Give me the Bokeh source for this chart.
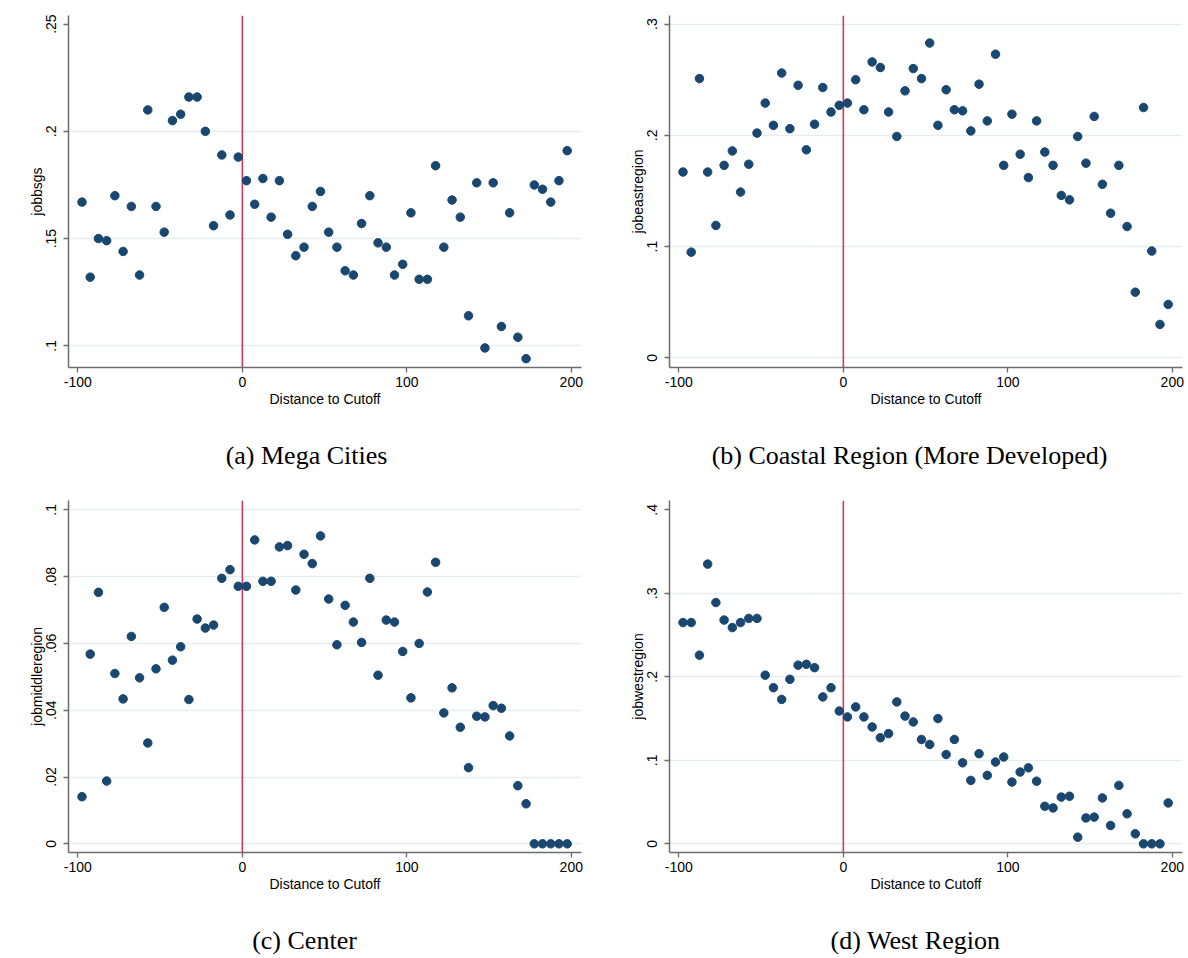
from bokeh.plotting import figure
from bokeh.models import Span, FixedTicker, Range1d
from bokeh.core.properties import value
from bokeh.layouts import column, row
from bokeh.embed import file_html
from bokeh.resources import INLINE

# Distance-to-cutoff bins (bin midpoints)
distance = [-97.5, -92.5, -87.5, -82.5, -77.5, -72.5, -67.5, -62.5, -57.5, -52.5,
            -47.5, -42.5, -37.5, -32.5, -27.5, -22.5, -17.5, -12.5, -7.5, -2.5,
            2.5, 7.5, 12.5, 17.5, 22.5, 27.5, 32.5, 37.5, 42.5, 47.5,
            52.5, 57.5, 62.5, 67.5, 72.5, 77.5, 82.5, 87.5, 92.5, 97.5,
            102.5, 107.5, 112.5, 117.5, 122.5, 127.5, 132.5, 137.5, 142.5, 147.5,
            152.5, 157.5, 162.5, 167.5, 172.5, 177.5, 182.5, 187.5, 192.5, 197.5]

jobbsgs = [0.167, 0.132, 0.150, 0.149, 0.170, 0.144, 0.165, 0.133, 0.210, 0.165,
           0.153, 0.205, 0.208, 0.216, 0.216, 0.200, 0.156, 0.189, 0.161, 0.188,
           0.177, 0.166, 0.178, 0.160, 0.177, 0.152, 0.142, 0.146, 0.165, 0.172,
           0.153, 0.146, 0.135, 0.133, 0.157, 0.170, 0.148, 0.146, 0.133, 0.138,
           0.162, 0.131, 0.131, 0.184, 0.146, 0.168, 0.160, 0.114, 0.176, 0.099,
           0.176, 0.109, 0.162, 0.104, 0.094, 0.175, 0.173, 0.167, 0.177, 0.191]

jobeastregion = [0.167, 0.095, 0.251, 0.167, 0.119, 0.173, 0.186, 0.149, 0.174, 0.202,
                 0.229, 0.209, 0.256, 0.206, 0.245, 0.187, 0.210, 0.243, 0.221, 0.227,
                 0.229, 0.250, 0.223, 0.266, 0.261, 0.221, 0.199, 0.240, 0.260, 0.251,
                 0.283, 0.209, 0.241, 0.223, 0.222, 0.204, 0.246, 0.213, 0.273, 0.173,
                 0.219, 0.183, 0.162, 0.213, 0.185, 0.173, 0.146, 0.142, 0.199, 0.175,
                 0.217, 0.156, 0.130, 0.173, 0.118, 0.059, 0.225, 0.096, 0.030, 0.048]

jobmiddleregion = [0.0141, 0.0568, 0.0753, 0.0188, 0.0510, 0.0434, 0.0621, 0.0497, 0.0302, 0.0524,
                   0.0708, 0.0550, 0.0590, 0.0432, 0.0673, 0.0646, 0.0655, 0.0795, 0.0821, 0.0771,
                   0.0771, 0.0910, 0.0786, 0.0786, 0.0889, 0.0893, 0.0760, 0.0867, 0.0839, 0.0922,
                   0.0733, 0.0596, 0.0714, 0.0664, 0.0603, 0.0795, 0.0505, 0.0670, 0.0664, 0.0576,
                   0.0437, 0.0600, 0.0754, 0.0843, 0.0392, 0.0467, 0.0349, 0.0228, 0.0382, 0.0380,
                   0.0414, 0.0406, 0.0323, 0.0174, 0.0120, 0.0, 0.0, 0.0, 0.0, 0.0]

jobwestregion = [0.265, 0.265, 0.226, 0.335, 0.289, 0.268, 0.259, 0.265, 0.270, 0.270,
                 0.202, 0.187, 0.173, 0.197, 0.214, 0.215, 0.211, 0.176, 0.187, 0.159,
                 0.152, 0.164, 0.152, 0.140, 0.127, 0.132, 0.170, 0.153, 0.146, 0.125,
                 0.119, 0.150, 0.107, 0.125, 0.097, 0.076, 0.108, 0.082, 0.098, 0.104,
                 0.074, 0.086, 0.091, 0.075, 0.045, 0.043, 0.056, 0.057, 0.008, 0.031,
                 0.032, 0.055, 0.022, 0.070, 0.036, 0.012, 0.0, 0.0, 0.0, 0.049]

x_ticks = [-100, 0, 100, 200]
x_tick_labels = ["-100", "0", "100", "200"]

ticks_bsgs = [0.1, 0.15, 0.2, 0.25]
labels_bsgs = [".1", ".15", ".2", ".25"]
ticks_east = [0.0, 0.1, 0.2, 0.3]
labels_east = ["0", ".1", ".2", ".3"]
ticks_middle = [0.0, 0.02, 0.04, 0.06, 0.08, 0.1]
labels_middle = ["0", ".02", ".04", ".06", ".08", ".1"]
ticks_west = [0.0, 0.1, 0.2, 0.3, 0.4]
labels_west = ["0", ".1", ".2", ".3", ".4"]

captions_top = ["(a) Mega Cities", "(b) Coastal Region (More Developed)"]
captions_bottom = ["(c) Center", "(d) West Region"]

NAVY = "#1a476f"
CUTOFF_RED = "#d2385e"
GRID = "#e6eef0"
AXIS = "#6c6c6c"
SANS = "Liberation Sans"
SERIF = "Liberation Serif"


def panel(values, ylabel, yticks, ylabels, gridticks, yrange, left, right):
    p = figure(frame_width=513, frame_height=352,
               min_border_left=left, min_border_right=right,
               min_border_top=15, min_border_bottom=50,
               x_range=Range1d(-105.7, 206.2), y_range=Range1d(*yrange),
               output_backend="svg", toolbar_location=None)
    p.outline_line_color = None
    p.background_fill_color = "white"
    p.border_fill_color = "white"

    p.xgrid.visible = False
    p.ygrid.ticker = FixedTicker(ticks=gridticks, minor_ticks=[])
    p.ygrid.grid_line_color = GRID
    p.ygrid.grid_line_width = 1.5

    for ax in (p.xaxis[0], p.yaxis[0]):
        ax.axis_line_color = AXIS
        ax.axis_line_width = 1.5
        ax.major_tick_line_color = AXIS
        ax.major_tick_line_width = 1.3
        ax.major_tick_out = 5
        ax.major_tick_in = 0
        ax.minor_tick_line_color = None
        ax.major_label_text_font = SANS
        ax.major_label_text_font_size = "14px"
        ax.major_label_text_color = "black"
        ax.axis_label_text_font = SANS
        ax.axis_label_text_font_size = "14px"
        ax.axis_label_text_font_style = "normal"
        ax.axis_label_text_color = "black"

    p.xaxis.ticker = FixedTicker(ticks=x_ticks, minor_ticks=[])
    p.xaxis.major_label_overrides = dict(zip(x_ticks, x_tick_labels))
    p.xaxis.axis_label = "Distance to Cutoff"
    p.xaxis.major_label_standoff = 4
    p.xaxis.axis_label_standoff = 1

    p.yaxis.ticker = FixedTicker(ticks=yticks, minor_ticks=[])
    p.yaxis.major_label_overrides = dict(zip(yticks, ylabels))
    p.yaxis.major_label_orientation = "vertical"
    p.yaxis.axis_label = ylabel
    p.yaxis.major_label_standoff = 7
    p.yaxis.axis_label_standoff = -1

    cutoff = Span(location=0, dimension="height", line_color=CUTOFF_RED,
                  line_width=1.6, level="underlay")
    p.add_layout(cutoff)

    p.scatter(distance, values, size=8.5, marker="circle",
              fill_color=NAVY, line_color=NAVY)
    return p


def caption_strip(texts, centers, height, baseline_from_top):
    """A blank full-width strip carrying the two sub-captions of one row."""
    s = figure(width=1188, height=height, x_range=Range1d(0, 1188),
               y_range=Range1d(0, height), x_axis_type=None, y_axis_type=None,
               min_border=0, output_backend="svg", toolbar_location=None)
    s.outline_line_color = None
    s.background_fill_color = "white"
    s.border_fill_color = "white"
    s.text(x=centers, y=[height - baseline_from_top] * len(texts), text=texts,
           text_align="center", text_baseline="middle",
           text_font=value(SERIF), text_font_size="26px", text_color="black")
    return s


pa = panel(jobbsgs, "jobbsgs", ticks_bsgs, labels_bsgs, [0.1, 0.15, 0.2],
           (0.08988, 0.25402), 68, 13)
pb = panel(jobeastregion, "jobeastregion", ticks_east, labels_east, ticks_east,
           (-0.00872, 0.30774), 75, 6)
pc = panel(jobmiddleregion, "jobmiddleregion", ticks_middle, labels_middle, ticks_middle,
           (-0.0026, 0.1028), 68, 13)
pd = panel(jobwestregion, "jobwestregion", ticks_west, labels_west, [0.0, 0.1, 0.2, 0.3],
           (-0.01038, 0.4112), 75, 6)

strip_top = caption_strip(captions_top, [306, 909], 68, 38)
strip_bottom = caption_strip(captions_bottom, [304, 915], 56, 38)

layout = column(row(pa, pb), strip_top, row(pc, pd), strip_bottom)

with open("out.html", "w") as f:
    f.write(file_html(layout, INLINE))
